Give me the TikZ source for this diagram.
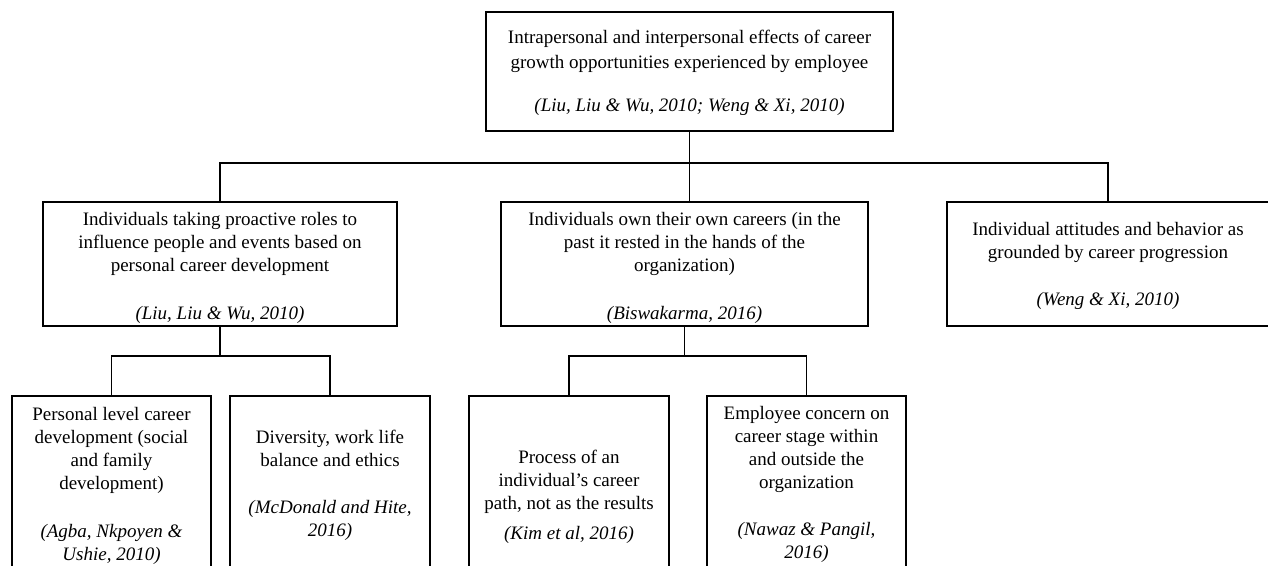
\documentclass[tikz,border=0pt]{standalone}
\usepackage{fontspec}
\setmainfont{Liberation Serif}
\begin{document}
\begin{tikzpicture}[x=1pt, y=-1pt,
    box/.style={draw, line width=1.3pt, align=center, inner sep=0pt, font=\fontsize{19}{23}\selectfont},
    link/.style={line width=1.3pt}]
                \useasboundingbox (0,0) rectangle (1268,565);
                \node[box, minimum width=407, minimum height=119] (top) at (689.5,71.5) {\rule{0pt}{17pt}Intrapersonal and interpersonal effects of career\\[2pt] growth opportunities experienced by employee\\[20pt] \textit{(Liu, Liu \& Wu, 2010; Weng \& Xi, 2010)}};
                \node[box, minimum width=354, minimum height=124] (l2a) at (220,264) {\rule{0pt}{21pt}Individuals taking proactive roles to\\ influence people and events based on\\ personal career development\\[25pt] \textit{(Liu, Liu \& Wu, 2010)}};
                \node[box, minimum width=367, minimum height=124] (l2b) at (684.5,264) {\rule{0pt}{21pt}Individuals own their own careers (in the\\ past it rested in the hands of the\\ organization)\\[25pt] \textit{(Biswakarma, 2016)}};
                \node[box, minimum width=322, minimum height=124] (l2c) at (1108,264) {\rule{0pt}{18pt}Individual attitudes and behavior as\\ grounded by career progression\\[24pt] \textit{(Weng \& Xi, 2010)}};
                \node[box, minimum width=199, minimum height=179] (l3a) at (111.5,485.5) {Personal level career\\ development (social\\ and family\\ development)\\[25pt] \textit{(Agba, Nkpoyen \&}\\ \textit{Ushie, 2010)}};
                \node[box, minimum width=200, minimum height=178] (l3b) at (330,485) {Diversity, work life\\ balance and ethics\\[24pt] \textit{(McDonald and Hite,}\\ \textit{2016)}};
                \node[box, minimum width=200, minimum height=202] (l3c) at (569,497) {Process of an\\ individual's career\\ path, not as the results\\[7pt] \textit{(Kim et al, 2016)}};
                \node[box, minimum width=199, minimum height=177] (l3d) at (806.5,484.5) {Employee concern on\\ career stage within\\ and outside the\\ organization\\[24pt] \textit{(Nawaz \& Pangil,}\\ \textit{2016)}};
                \coordinate (bus) at (0,163);
                \coordinate (subbus) at (0,356);
                \draw[link] (top.south) -- (top.south |- l2b.north);
                \draw[link] (l2a.north) |- (bus -| l2c.north) -- (l2c.north);
                \draw[link] (l2a.south) -- (l2a.south |- subbus);
                \draw[link] (l3a.north) |- (subbus -| l3b.north) -- (l3b.north);
                \draw[link] (l2b.south) -- (l2b.south |- subbus);
                \draw[link] (l3c.north) |- (subbus -| l3d.north) -- (l3d.north);
            \end{tikzpicture}
\end{document}
